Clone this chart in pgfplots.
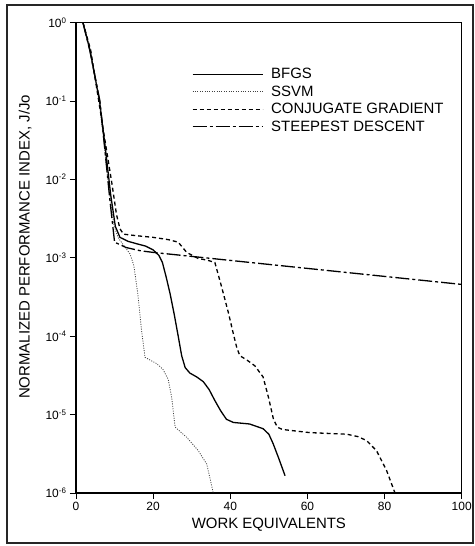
\documentclass[border=0pt]{standalone}
\usepackage{pgfplots}
\pgfplotsset{compat=1.18}
\usepackage{fontspec}
\setmainfont{Liberation Sans}
\begin{document}
\begin{tikzpicture}[x=1bp,y=1bp]
\path (0,0) rectangle (474,546);
\draw[black!85, line width=1.2bp] (7,3) rectangle (473,541);
\begin{axis}[
  at={(76bp,53bp)}, anchor=south west,
  scale only axis, width=385.7bp, height=470.5bp,
  ymode=log, log basis y=10,
  xmin=0, xmax=100, ymin=1e-6, ymax=1,
  xtick={0,20,40,60,80,100},
  ytick={1e-6,1e-5,1e-4,1e-3,1e-2,1e-1,1},
  axis line style={line width=1.1bp},
  tick align=outside,
  xtick pos=bottom, ytick pos=left,
  major tick length=6bp, minor tick length=4bp,
  every tick/.style={black, line width=0.6bp},
  /pgf/number format/assume math mode=true,
  log number format basis/.code 2 args={#1\textsuperscript{\pgfmathprintnumber[assume math mode=true]{#2}}},
  ticklabel style={font=\fontsize{12}{13}\selectfont},
  xlabel={WORK EQUIVALENTS},
  ylabel={NORMALIZED PERFORMANCE INDEX, J/Jo},
  label style={font=\fontsize{15}{17}\selectfont},
  xlabel style={at={(rel axis cs:0.5,-0.068)}, anchor=center},
  ylabel style={at={(rel axis cs:-0.132,0.523)}, anchor=center},
  legend style={at={(rel axis cs:0.30,0.907)}, anchor=north west, draw=none, fill=none,
    inner sep=0pt, font=\fontsize{15}{17}\selectfont, row sep=1.5bp,
    cells={anchor=west}},
  legend image code/.code={\draw[#1] (0bp,0bp) -- (70bp,0bp); \path (76bp,0bp);},
]
% BFGS
\addplot[black, line width=1.3bp] coordinates {
(1.8,1) (3.6,0.447) (6.1,0.1) (7.6,0.0251) (9.0,0.00631) (10.2,0.00251) (11.4,0.00182)
(13.5,0.00162) (15.7,0.00151) (18,0.00141) (20,0.00126) (21.5,0.00107) (22.4,0.000871)
(23.4,0.000562) (24.4,0.000347) (25.5,0.000186) (26.5,0.0001) (27.4,5.62e-5) (28.3,3.98e-5)
(29.5,3.39e-5) (31.3,3.02e-5) (33,2.63e-5) (34.5,2.09e-5) (36,1.51e-5) (37.5,1.12e-5)
(39,8.71e-6) (40.8,7.94e-6) (45,7.59e-6) (48.5,6.61e-6) (50,5.62e-6) (51.1,4.27e-6)
(52.5,2.82e-6) (54.2,1.66e-6)};
\addlegendentry{BFGS}
% SSVM
\addplot[black!75, line width=0.8bp, dash pattern=on 1bp off 1.4bp] coordinates {
(1.8,1) (3.6,0.447) (6.0,0.1) (7.4,0.0251) (8.7,0.00631) (9.9,0.00251) (11,0.00178)
(12.5,0.00141) (14.0,0.00112) (15.0,0.000794) (16.0,0.000355) (17.0,0.000117) (17.9,5.37e-5)
(20.9,4.47e-5) (22.5,3.80e-5) (23.9,2.82e-5) (24.8,1.66e-5) (25.7,6.92e-6) (28.7,5.13e-6)
(31.7,3.47e-6) (33.9,2.34e-6) (35.6,1e-6)};
\addlegendentry{SSVM}
% Conjugate gradient
\addplot[black, line width=1.3bp, dash pattern=on 4bp off 3bp] coordinates {
(1.8,1) (3.8,0.447) (5.8,0.107) (7.5,0.0316) (9.3,0.00891) (10.5,0.00355) (11.4,0.00234)
(12.3,0.002) (15.7,0.00191) (20,0.00182) (24,0.0017) (26.5,0.00158) (28.7,0.00117)
(31.7,0.000977) (34,0.000933) (36,0.000871) (37.8,0.000417) (39.5,0.0002) (40.8,0.000107)
(41.7,7.08e-5) (42.5,5.62e-5) (44.2,5.01e-5) (46.4,4.17e-5) (48.5,3.02e-5) (49.9,1.66e-5)
(51.2,8.71e-6) (52.2,6.92e-6) (53.5,6.46e-6) (60.6,5.89e-6) (70.2,5.62e-6) (73,5.25e-6)
(75.3,4.68e-6) (77.9,3.47e-6) (80.5,1.95e-6) (82.7,1e-6)};
\addlegendentry{CONJUGATE GRADIENT}
% Steepest descent
\addplot[black, line width=1.3bp, dash pattern=on 14bp off 3bp on 3bp off 3bp] coordinates {
(1.8,1) (3.6,0.437) (6.2,0.1) (7.5,0.0234) (8.8,0.00537) (10.0,0.00158) (13,0.00135)
(16.6,0.00123) (20,0.00117) (100,0.000457)};
\addlegendentry{STEEPEST DESCENT}
\end{axis}
\end{tikzpicture}
\end{document}
